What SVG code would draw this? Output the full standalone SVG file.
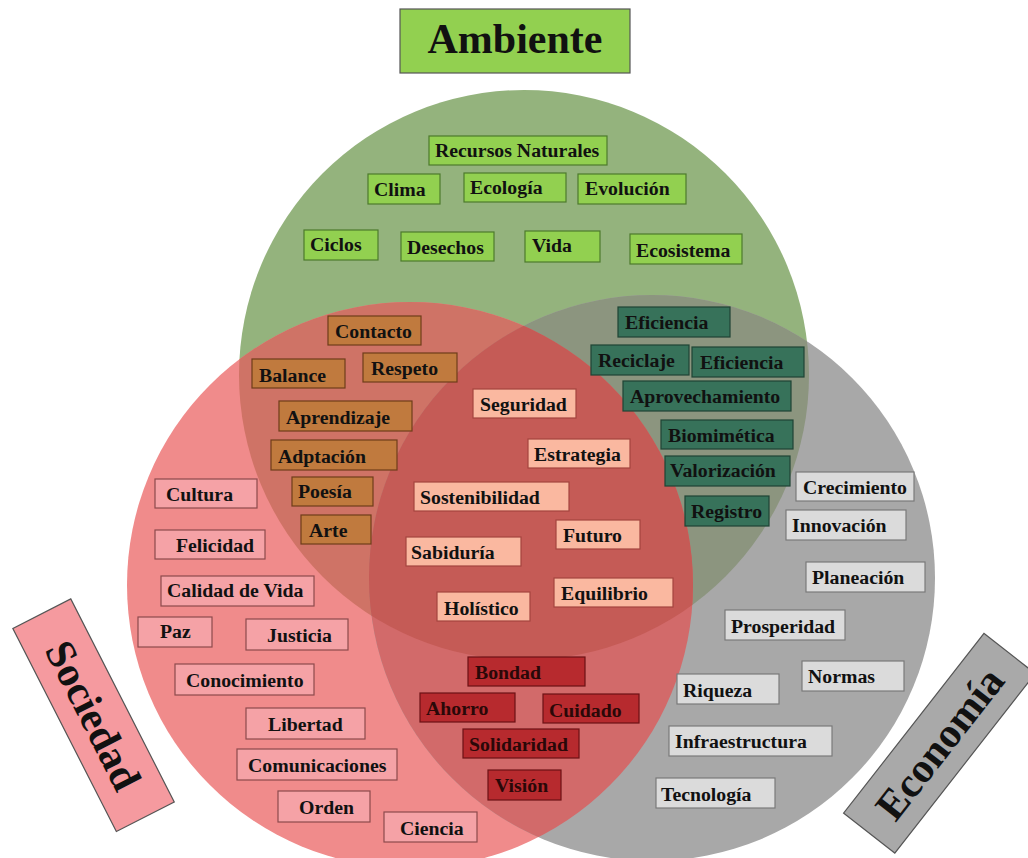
<svg xmlns="http://www.w3.org/2000/svg" width="1028" height="858" viewBox="0 0 1028 858">
<style>
text{font-family:"Liberation Serif","Times New Roman",serif;font-weight:bold;font-size:19.8px;fill:#111}
.lg rect{fill:#92d050;stroke:#4d7a2c;stroke-width:1.2}
.br rect{fill:#c07a3e;stroke:#6e3c1a;stroke-width:1.2}
.sa rect{fill:#fab8a0;stroke:#a4443e;stroke-width:1.2}
.dg rect{fill:#37725a;stroke:#1e4434;stroke-width:1.2}
.dr rect{fill:#b72a2e;stroke:#6c1214;stroke-width:1.2}
.dr text{fill:#2a0808}
.pk rect{fill:#f5a2a6;stroke:#8c4a4c;stroke-width:1.2}
.gy rect{fill:#dbdbdb;stroke:#7a7a7a;stroke-width:1.2}
.big{font-size:42px}
</style>
<defs>
<clipPath id="cG"><circle cx="524" cy="375" r="285"/></clipPath>
<clipPath id="cR"><circle cx="410" cy="585" r="283"/></clipPath>
<clipPath id="cE"><circle cx="652" cy="578" r="283"/></clipPath>
</defs>
<rect width="1028" height="858" fill="#ffffff"/>
<g id="venn">
<circle cx="524" cy="375" r="285" fill="#94b37d"/>
<circle cx="410" cy="585" r="283" fill="#f08b8b"/>
<circle cx="652" cy="578" r="283" fill="#a8a8a8"/>
<circle cx="410" cy="585" r="283" fill="#cf7366" clip-path="url(#cG)"/>
<circle cx="652" cy="578" r="283" fill="#8c957f" clip-path="url(#cG)"/>
<circle cx="652" cy="578" r="283" fill="#d26a6a" clip-path="url(#cR)"/>
<g clip-path="url(#cG)"><circle cx="652" cy="578" r="283" fill="#c55b56" clip-path="url(#cR)"/></g>
</g>
<g id="connectors"/>
<g id="title-ambiente"><rect x="400" y="9" width="230" height="64" fill="#92d050" stroke="#555" stroke-width="1.2"/><text class="big" x="515" y="53" text-anchor="middle">Ambiente</text></g>
<g id="title-sociedad" transform="translate(94,715) rotate(63)"><rect x="-114" y="-32" width="228" height="65" fill="#f59a9f" stroke="#555" stroke-width="1.2"/><text class="big" x="0" y="15" text-anchor="middle">Sociedad</text></g>
<g id="title-economia" transform="translate(939,743) rotate(-52)"><rect x="-114" y="-32" width="228" height="65" fill="#a9a9a9" stroke="#555" stroke-width="1.2"/><text class="big" x="0" y="15" text-anchor="middle">Economía</text></g>

<g id="n-recursos" class="lg"><rect x="429" y="136" width="178" height="29"/><text x="435" y="157">Recursos Naturales</text></g>
<g id="n-clima" class="lg"><rect x="368" y="174" width="72" height="30"/><text x="374" y="196">Clima</text></g>
<g id="n-ecologia" class="lg"><rect x="464" y="173" width="102" height="29"/><text x="470" y="194">Ecología</text></g>
<g id="n-evolucion" class="lg"><rect x="578" y="174" width="108" height="30"/><text x="585" y="195">Evolución</text></g>
<g id="n-ciclos" class="lg"><rect x="304" y="230" width="74" height="30"/><text x="310" y="251">Ciclos</text></g>
<g id="n-desechos" class="lg"><rect x="401" y="232" width="93" height="29"/><text x="407" y="254">Desechos</text></g>
<g id="n-vida" class="lg"><rect x="525" y="231" width="75" height="31"/><text x="532" y="252">Vida</text></g>
<g id="n-ecosistema" class="lg"><rect x="630" y="234" width="112" height="30"/><text x="636" y="257">Ecosistema</text></g>

<g id="n-contacto" class="br"><rect x="328" y="316" width="93" height="29"/><text x="335" y="338">Contacto</text></g>
<g id="n-balance" class="br"><rect x="252" y="359" width="93" height="29"/><text x="259" y="382">Balance</text></g>
<g id="n-respeto" class="br"><rect x="363" y="353" width="94" height="29"/><text x="371" y="375">Respeto</text></g>
<g id="n-aprendizaje" class="br"><rect x="279" y="401" width="133" height="30"/><text x="286" y="424">Aprendizaje</text></g>
<g id="n-adptacion" class="br"><rect x="271" y="440" width="126" height="30"/><text x="278" y="463">Adptación</text></g>
<g id="n-poesia" class="br"><rect x="292" y="477" width="81" height="29"/><text x="298" y="498">Poesía</text></g>
<g id="n-arte" class="br"><rect x="301" y="515" width="70" height="29"/><text x="309" y="537">Arte</text></g>

<g id="n-seguridad" class="sa"><rect x="473" y="389" width="103" height="29"/><text x="480" y="411">Seguridad</text></g>
<g id="n-estrategia" class="sa"><rect x="528" y="439" width="102" height="29"/><text x="534" y="461">Estrategia</text></g>
<g id="n-sostenibilidad" class="sa"><rect x="414" y="482" width="155" height="29"/><text x="420" y="504">Sostenibilidad</text></g>
<g id="n-futuro" class="sa"><rect x="556" y="520" width="84" height="29"/><text x="563" y="542">Futuro</text></g>
<g id="n-sabiduria" class="sa"><rect x="406" y="537" width="115" height="29"/><text x="411" y="559">Sabiduría</text></g>
<g id="n-equilibrio" class="sa"><rect x="554" y="578" width="119" height="29"/><text x="561" y="600">Equilibrio</text></g>
<g id="n-holistico" class="sa"><rect x="437" y="592" width="93" height="29"/><text x="444" y="615">Holístico</text></g>

<g id="n-eficiencia1" class="dg"><rect x="618" y="307" width="112" height="30"/><text x="625" y="329">Eficiencia</text></g>
<g id="n-reciclaje" class="dg"><rect x="591" y="345" width="98" height="30"/><text x="598" y="367">Reciclaje</text></g>
<g id="n-eficiencia2" class="dg"><rect x="692" y="347" width="112" height="30"/><text x="700" y="369">Eficiencia</text></g>
<g id="n-aprovechamiento" class="dg"><rect x="623" y="381" width="168" height="30"/><text x="630" y="403">Aprovechamiento</text></g>
<g id="n-biomimetica" class="dg"><rect x="661" y="420" width="132" height="29"/><text x="668" y="442">Biomimética</text></g>
<g id="n-valorizacion" class="dg"><rect x="665" y="456" width="125" height="30"/><text x="670" y="477">Valorización</text></g>
<g id="n-registro" class="dg"><rect x="685" y="496" width="84" height="30"/><text x="691" y="518">Registro</text></g>

<g id="n-bondad" class="dr"><rect x="468" y="657" width="117" height="29"/><text x="475" y="679">Bondad</text></g>
<g id="n-ahorro" class="dr"><rect x="420" y="693" width="95" height="29"/><text x="426" y="715">Ahorro</text></g>
<g id="n-cuidado" class="dr"><rect x="543" y="694" width="96" height="29"/><text x="549" y="717">Cuidado</text></g>
<g id="n-solidaridad" class="dr"><rect x="463" y="729" width="116" height="29"/><text x="469" y="751">Solidaridad</text></g>
<g id="n-vision" class="dr"><rect x="488" y="770" width="73" height="30"/><text x="495" y="792">Visión</text></g>

<g id="n-cultura" class="pk"><rect x="155" y="479" width="102" height="29"/><text x="166" y="501">Cultura</text></g>
<g id="n-felicidad" class="pk"><rect x="155" y="530" width="110" height="29"/><text x="176" y="552">Felicidad</text></g>
<g id="n-calidad" class="pk"><rect x="161" y="576" width="153" height="30"/><text x="167" y="597">Calidad de Vida</text></g>
<g id="n-paz" class="pk"><rect x="138" y="617" width="74" height="30"/><text x="160" y="638">Paz</text></g>
<g id="n-justicia" class="pk"><rect x="246" y="619" width="102" height="31"/><text x="267" y="642">Justicia</text></g>
<g id="n-conocimiento" class="pk"><rect x="175" y="664" width="139" height="31"/><text x="186" y="687">Conocimiento</text></g>
<g id="n-libertad" class="pk"><rect x="246" y="708" width="119" height="31"/><text x="268" y="731">Libertad</text></g>
<g id="n-comunicaciones" class="pk"><rect x="237" y="749" width="160" height="31"/><text x="248" y="772">Comunicaciones</text></g>
<g id="n-orden" class="pk"><rect x="278" y="791" width="92" height="31"/><text x="299" y="814">Orden</text></g>
<g id="n-ciencia" class="pk"><rect x="384" y="812" width="93" height="30"/><text x="400" y="835">Ciencia</text></g>

<g id="n-crecimiento" class="gy"><rect x="796" y="472" width="118" height="29"/><text x="803" y="494">Crecimiento</text></g>
<g id="n-innovacion" class="gy"><rect x="786" y="510" width="120" height="30"/><text x="792" y="532">Innovación</text></g>
<g id="n-planeacion" class="gy"><rect x="806" y="562" width="119" height="30"/><text x="812" y="584">Planeación</text></g>
<g id="n-prosperidad" class="gy"><rect x="725" y="610" width="120" height="30"/><text x="731" y="633">Prosperidad</text></g>
<g id="n-normas" class="gy"><rect x="802" y="661" width="102" height="30"/><text x="808" y="683">Normas</text></g>
<g id="n-riqueza" class="gy"><rect x="677" y="674" width="102" height="30"/><text x="683" y="697">Riqueza</text></g>
<g id="n-infraestructura" class="gy"><rect x="669" y="726" width="163" height="30"/><text x="675" y="748">Infraestructura</text></g>
<g id="n-tecnologia" class="gy"><rect x="656" y="778" width="119" height="30"/><text x="661" y="801">Tecnología</text></g>
</svg>
